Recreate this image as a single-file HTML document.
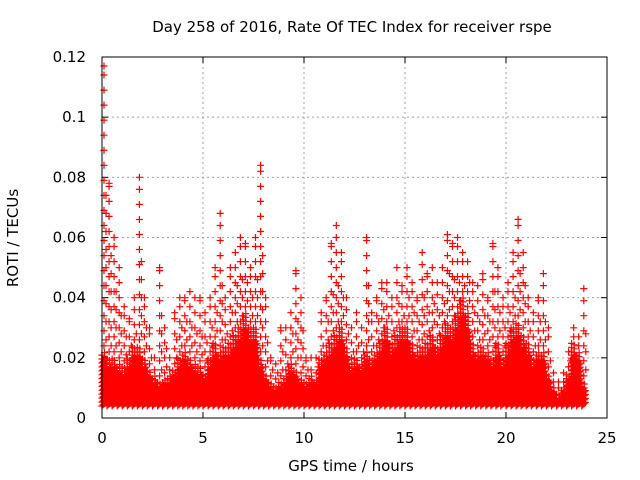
<!DOCTYPE html>
<html><head><meta charset="utf-8"><style>
body{margin:0;background:#fff}
svg{display:block;font-family:"DejaVu Sans","Liberation Sans",sans-serif}
</style></head><body>
<svg id="chart" width="640" height="480">
<text x="352" y="32" text-anchor="middle" font-size="15">Day 258 of 2016, Rate Of TEC Index for receiver rspe</text>
<text x="351" y="471" text-anchor="middle" font-size="15">GPS time / hours</text>
<text transform="translate(18,238) rotate(-90)" text-anchor="middle" font-size="15">ROTI / TECUs</text>
<g id="grid"></g>
<g id="ticks"></g>
<path id="pts" fill="none" stroke="#ff0000" stroke-width="1.2"/>
<rect x="102" y="57" width="505" height="361" fill="none" stroke="#000" stroke-width="1"/>
</svg>
<script>
const xTicks=[0,5,10,15,20,25];
const yTicks=[0,0.02,0.04,0.06,0.08,0.1,0.12];
const yTickLabels=["0","0.02","0.04","0.06","0.08","0.1","0.12"];
const times=[];for(let i=0;i<96;i++)times.push(i*0.25);
const denseTop=[.022,.02,.02,.018,.017,.02,.024,.024,.02,.016,.014,.012,.013,.014,.016,.02,.022,.02,.018,.017,.015,.02,.025,.022,.024,.025,.028,.03,.035,.03,.03,.02,.015,.012,.011,.012,.014,.018,.016,.013,.012,.014,.013,.02,.022,.025,.028,.03,.024,.018,.02,.018,.022,.02,.022,.026,.03,.025,.028,.03,.03,.025,.022,.024,.025,.028,.024,.028,.032,.03,.035,.04,.035,.025,.022,.024,.022,.02,.025,.02,.025,.03,.032,.028,.025,.02,.022,.022,.015,.01,.008,.01,.015,.025,.022,.012];
const peaks=[.117,.078,.06,.05,.037,.033,.04,.08,.04,.03,.02,.05,.03,.02,.035,.04,.04,.042,.04,.04,.035,.04,.05,.068,.04,.05,.055,.06,.058,.05,.06,.084,.04,.02,.018,.03,.03,.035,.049,.04,.02,.02,.02,.035,.04,.058,.064,.055,.04,.03,.035,.03,.06,.035,.04,.045,.045,.04,.05,.044,.05,.045,.04,.055,.048,.05,.045,.05,.061,.058,.06,.055,.052,.045,.044,.048,.04,.058,.05,.04,.045,.055,.066,.055,.04,.035,.04,.048,.03,.015,.012,.015,.022,.03,.027,.043];
const base=0.004;
const X=t=>102+t*505/25, Y=v=>418-v*361/0.12;
const ns="http://www.w3.org/2000/svg";
const grid=document.getElementById('grid'),ticks=document.getElementById('ticks');
function line(g,x1,y1,x2,y2,st,dash){const l=document.createElementNS(ns,'line');l.setAttribute('x1',x1);l.setAttribute('y1',y1);l.setAttribute('x2',x2);l.setAttribute('y2',y2);l.setAttribute('stroke',st);if(dash)l.setAttribute('stroke-dasharray',dash);g.appendChild(l);return l;}
function text(x,y,s,anchor){const t=document.createElementNS(ns,'text');t.setAttribute('x',x);t.setAttribute('y',y);t.setAttribute('text-anchor',anchor);t.setAttribute('font-size','15');t.textContent=s;document.getElementById('chart').appendChild(t);return t;}
xTicks.forEach(v=>{const x=X(v);
 if(v>0&&v<25)line(grid,x,57,x,418,'#a0a0a0','2,3');
 line(ticks,x,418,x,412,'#000');line(ticks,x,57,x,63,'#000');
 const t=text(x,443,String(v),'middle');
 
 });
yTicks.forEach((v,i)=>{const y=Y(v);
 if(v>0&&v<0.12)line(grid,102,y,607,y,'#a0a0a0','2,3');
 line(ticks,102,y,108,y,'#000');line(ticks,607,y,601,y,'#000');
 const t=text(86,y+5,yTickLabels[i],'end');
 
 });
let d='';
function plus(x,y){d+='M'+(x-3.5).toFixed(1)+' '+y.toFixed(1)+'h7M'+x.toFixed(1)+' '+(y-3.5).toFixed(1)+'v7';}
times.forEach((t,i)=>{
 [0,0.06,0.12,0.18].forEach((o,k)=>{
  const top=denseTop[i]*(k%2?0.85:1);
  for(let v=base+k*0.0004;v<=top;v+=0.0013)plus(X(t+o),Y(v));
 });
 const gap=peaks[i]-denseTop[i];
 for(let v=denseTop[i]+0.002;v<peaks[i];v+=0.005)plus(X(t+0.1),Y(v));
 for(let v=denseTop[i]+0.004;v<denseTop[i]+gap*0.6;v+=0.006)plus(X(t+0.2),Y(v));
 plus(X(t+0.1),Y(peaks[i]));
});
document.getElementById('pts').setAttribute('d',d);
</script>
</body></html>
